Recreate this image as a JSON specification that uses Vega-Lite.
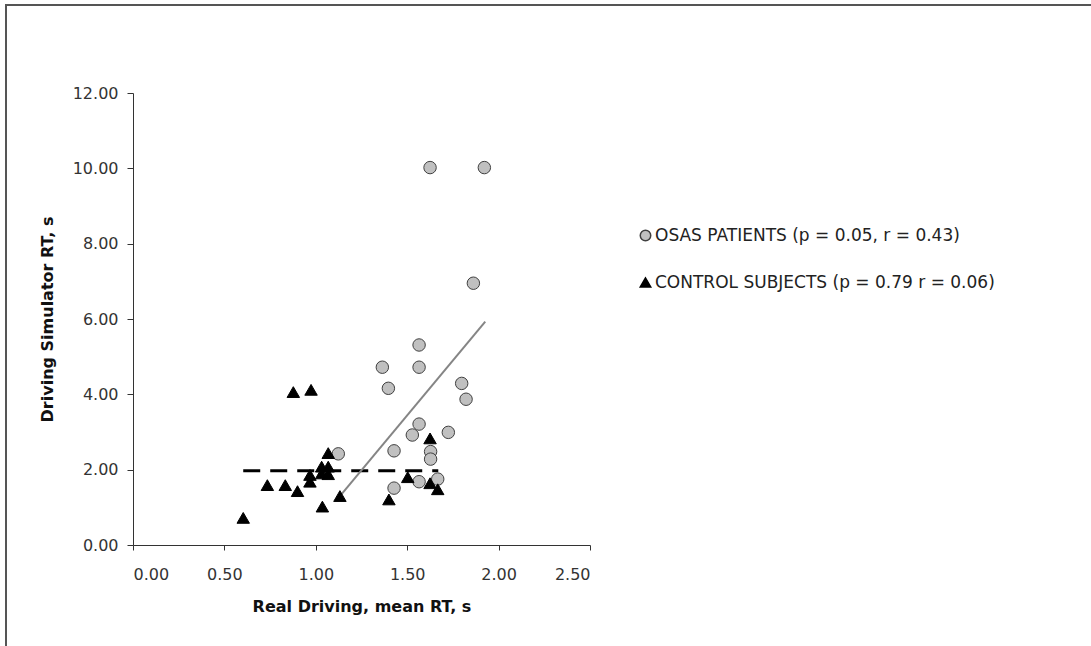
{
  "$schema": "https://vega.github.io/schema/vega-lite/v6.json",
  "autosize": "none",
  "width": 1085,
  "height": 641,
  "padding": {"left": 6, "top": 5, "right": 0, "bottom": 0},
  "background": "white",
  "config": {
    "view": {"stroke": "#555555", "strokeWidth": 2, "strokeDash": [1085, 1726, 641]},
    "font": "DejaVu Sans",
    "axis": {
      "grid": false,
      "domainColor": "#333333",
      "tickColor": "#333333",
      "labelColor": "#333333",
      "labelFont": "DejaVu Sans",
      "labelFontSize": 16,
      "titleFont": "DejaVu Sans",
      "titleFontSize": 16,
      "titleFontWeight": "bold",
      "titleColor": "#111111",
      "tickSize": 6
    },
    "legend": {
      "orient": "none",
      "legendX": 631,
      "legendY": 222,
      "labelFontSize": 17,
      "labelColor": "#222222",
      "labelFont": "DejaVu Sans",
      "symbolSize": 110,
      "rowPadding": 29,
      "padding": 0,
      "labelOffset": 1,
      "labelLimit": 600
    }
  },
  "datasets": {
    "points": [
      {"rd": 1.364, "ds": 4.72, "group": "OSAS PATIENTS (p = 0.05, r = 0.43)"},
      {"rd": 1.565, "ds": 4.72, "group": "OSAS PATIENTS (p = 0.05, r = 0.43)"},
      {"rd": 1.397, "ds": 4.16, "group": "OSAS PATIENTS (p = 0.05, r = 0.43)"},
      {"rd": 1.798, "ds": 4.29, "group": "OSAS PATIENTS (p = 0.05, r = 0.43)"},
      {"rd": 1.822, "ds": 3.87, "group": "OSAS PATIENTS (p = 0.05, r = 0.43)"},
      {"rd": 1.565, "ds": 3.21, "group": "OSAS PATIENTS (p = 0.05, r = 0.43)"},
      {"rd": 1.528, "ds": 2.92, "group": "OSAS PATIENTS (p = 0.05, r = 0.43)"},
      {"rd": 1.725, "ds": 2.99, "group": "OSAS PATIENTS (p = 0.05, r = 0.43)"},
      {"rd": 1.428, "ds": 2.50, "group": "OSAS PATIENTS (p = 0.05, r = 0.43)"},
      {"rd": 1.628, "ds": 2.48, "group": "OSAS PATIENTS (p = 0.05, r = 0.43)"},
      {"rd": 1.628, "ds": 2.28, "group": "OSAS PATIENTS (p = 0.05, r = 0.43)"},
      {"rd": 1.123, "ds": 2.42, "group": "OSAS PATIENTS (p = 0.05, r = 0.43)"},
      {"rd": 1.565, "ds": 1.68, "group": "OSAS PATIENTS (p = 0.05, r = 0.43)"},
      {"rd": 1.667, "ds": 1.75, "group": "OSAS PATIENTS (p = 0.05, r = 0.43)"},
      {"rd": 1.428, "ds": 1.51, "group": "OSAS PATIENTS (p = 0.05, r = 0.43)"},
      {"rd": 1.625, "ds": 10.02, "group": "OSAS PATIENTS (p = 0.05, r = 0.43)"},
      {"rd": 1.922, "ds": 10.02, "group": "OSAS PATIENTS (p = 0.05, r = 0.43)"},
      {"rd": 1.862, "ds": 6.95, "group": "OSAS PATIENTS (p = 0.05, r = 0.43)"},
      {"rd": 1.565, "ds": 5.31, "group": "OSAS PATIENTS (p = 0.05, r = 0.43)"},
      {"rd": 0.603, "ds": 0.72, "group": "CONTROL SUBJECTS (p = 0.79 r = 0.06)"},
      {"rd": 0.735, "ds": 1.59, "group": "CONTROL SUBJECTS (p = 0.79 r = 0.06)"},
      {"rd": 0.833, "ds": 1.59, "group": "CONTROL SUBJECTS (p = 0.79 r = 0.06)"},
      {"rd": 0.900, "ds": 1.43, "group": "CONTROL SUBJECTS (p = 0.79 r = 0.06)"},
      {"rd": 0.877, "ds": 4.06, "group": "CONTROL SUBJECTS (p = 0.79 r = 0.06)"},
      {"rd": 0.974, "ds": 4.12, "group": "CONTROL SUBJECTS (p = 0.79 r = 0.06)"},
      {"rd": 0.968, "ds": 1.68, "group": "CONTROL SUBJECTS (p = 0.79 r = 0.06)"},
      {"rd": 0.968, "ds": 1.86, "group": "CONTROL SUBJECTS (p = 0.79 r = 0.06)"},
      {"rd": 1.036, "ds": 1.02, "group": "CONTROL SUBJECTS (p = 0.79 r = 0.06)"},
      {"rd": 1.032, "ds": 2.08, "group": "CONTROL SUBJECTS (p = 0.79 r = 0.06)"},
      {"rd": 1.032, "ds": 1.90, "group": "CONTROL SUBJECTS (p = 0.79 r = 0.06)"},
      {"rd": 1.068, "ds": 2.08, "group": "CONTROL SUBJECTS (p = 0.79 r = 0.06)"},
      {"rd": 1.068, "ds": 1.88, "group": "CONTROL SUBJECTS (p = 0.79 r = 0.06)"},
      {"rd": 1.068, "ds": 2.44, "group": "CONTROL SUBJECTS (p = 0.79 r = 0.06)"},
      {"rd": 1.132, "ds": 1.30, "group": "CONTROL SUBJECTS (p = 0.79 r = 0.06)"},
      {"rd": 1.400, "ds": 1.21, "group": "CONTROL SUBJECTS (p = 0.79 r = 0.06)"},
      {"rd": 1.503, "ds": 1.80, "group": "CONTROL SUBJECTS (p = 0.79 r = 0.06)"},
      {"rd": 1.625, "ds": 2.83, "group": "CONTROL SUBJECTS (p = 0.79 r = 0.06)"},
      {"rd": 1.625, "ds": 1.64, "group": "CONTROL SUBJECTS (p = 0.79 r = 0.06)"},
      {"rd": 1.667, "ds": 1.48, "group": "CONTROL SUBJECTS (p = 0.79 r = 0.06)"}
    ],
    "fit": [
      {"rd": 1.132, "ds": 1.30},
      {"rd": 1.927, "ds": 5.93}
    ],
    "ctrlfit": [
      {"rd": 0.603, "ds": 1.97},
      {"rd": 1.670, "ds": 1.97}
    ]
  },
  "layer": [
    {
      "data": {"name": "ctrlfit"},
      "mark": {"type": "line", "color": "#000000", "strokeWidth": 3, "strokeDash": [17, 10]},
      "encoding": {
        "x": {"field": "rd", "type": "quantitative"},
        "y": {"field": "ds", "type": "quantitative"}
      }
    },
    {
      "data": {"name": "fit"},
      "mark": {"type": "line", "color": "#858585", "strokeWidth": 2},
      "encoding": {
        "x": {"field": "rd", "type": "quantitative"},
        "y": {"field": "ds", "type": "quantitative"}
      }
    },
    {
      "data": {"name": "points"},
      "mark": {"type": "point", "filled": true, "strokeWidth": 1, "opacity": 1, "size": 155},
      "encoding": {
        "x": {
          "field": "rd", "type": "quantitative",
          "scale": {"domain": [0, 2.5], "nice": false, "zero": false, "range": [127, 584]},
          "axis": {"values": [0, 0.5, 1, 1.5, 2, 2.5], "format": ".2f", "title": "Real Driving, mean RT, s", "tickSize": 5, "labelPadding": 16, "titlePadding": 16, "offset": -101}
        },
        "y": {
          "field": "ds", "type": "quantitative",
          "scale": {"domain": [0, 12], "nice": false, "range": [540, 88]},
          "axis": {"values": [0, 2, 4, 6, 8, 10, 12], "format": ".2f", "title": "Driving Simulator RT, s", "labelPadding": 9, "titlePadding": 17, "offset": -127}
        },
        "shape": {
          "field": "group", "type": "nominal",
          "scale": {"domain": ["OSAS PATIENTS (p = 0.05, r = 0.43)", "CONTROL SUBJECTS (p = 0.79 r = 0.06)"], "range": ["circle", "triangle-up"]},
          "legend": {"title": null}
        },
        "fill": {
          "field": "group", "type": "nominal",
          "scale": {"domain": ["OSAS PATIENTS (p = 0.05, r = 0.43)", "CONTROL SUBJECTS (p = 0.79 r = 0.06)"], "range": ["#c0c0c0", "#000000"]},
          "legend": {"title": null}
        },
        "stroke": {
          "field": "group", "type": "nominal",
          "scale": {"domain": ["OSAS PATIENTS (p = 0.05, r = 0.43)", "CONTROL SUBJECTS (p = 0.79 r = 0.06)"], "range": ["#404040", "#000000"]},
          "legend": {"title": null}
        }
      }
    }
  ]
}
